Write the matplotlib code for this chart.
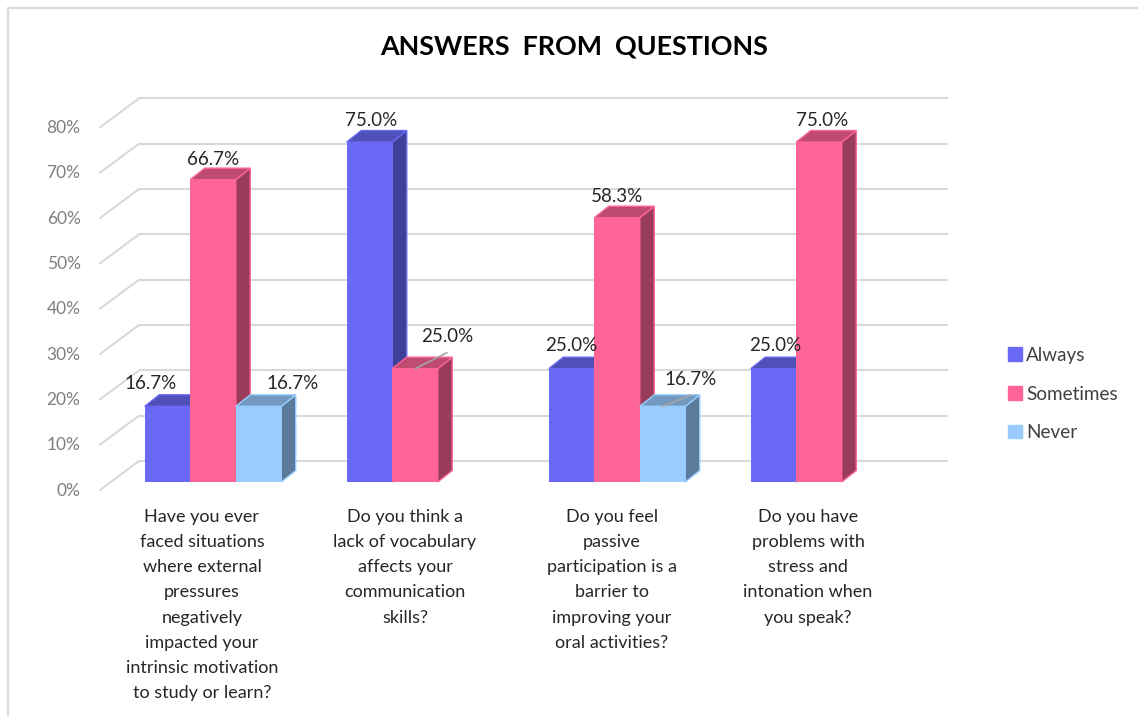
import matplotlib
matplotlib.use("Agg")
import matplotlib.pyplot as plt
from matplotlib.lines import Line2D

plt.rcParams['font.family'] = ['Lato', 'DejaVu Sans']

questions = ["Have you ever\nfaced situations\nwhere external\npressures\nnegatively\nimpacted your\nintrinsic motivation\nto study or learn?",
             "Do you think a\nlack of vocabulary\naffects your\ncommunication\nskills?",
             "Do you feel\npassive\nparticipation is a\nbarrier to\nimproving your\noral activities?",
             "Do you have\nproblems with\nstress and\nintonation when\nyou speak?"]
always = [16.7, 75.0, 25.0, 25.0]
sometimes = [66.7, 25.0, 58.3, 75.0]
never = [16.7, 0, 16.7, 0]
ticks = [0, 10, 20, 30, 40, 50, 60, 70, 80]

W, H = 1138, 716
px_x = 202.0      # pixels per category
px_y = 4.533      # pixels per percent
x0_px, y0_px = 213, 482   # where category 0 / value 0 sit

# axes box in pixels
left, right, top, bottom = 100, 948, 90, 490

fig = plt.figure(figsize=(W / 100, H / 100), dpi=100)
ax = fig.add_axes([left / W, 1 - bottom / H, (right - left) / W, (bottom - top) / H])
ax.set_xlim((left - x0_px) / px_x, (right - x0_px) / px_x)
ax.set_ylim((y0_px - bottom) / px_y, (y0_px - top) / px_y)
for s in ax.spines.values():
    s.set_visible(False)
ax.patch.set_alpha(0)

# outer frame of the screenshot
fig.add_artist(Line2D([8 / W, 8 / W, 1], [0, 1 - 8 / H, 1 - 8 / H], color="#d9d9d9", lw=1.6))

# wall grid
grid_c = "#d9d9d9"
wall_x = (139 - x0_px) / px_x
front_x = (left - x0_px) / px_x
back_off = 21 / px_y
front_off = -8 / px_y
for t in ticks:
    ax.plot([wall_x, ax.get_xlim()[1]], [t + back_off, t + back_off], color=grid_c, lw=1.5, zorder=1, solid_capstyle="butt")
    ax.plot([front_x, wall_x], [t + front_off, t + back_off], color=grid_c, lw=1.5, zorder=1, clip_on=False)

bw = 45.5 / px_x
dx = 14.5 / px_x
dy = 11.5 / px_y
styles = [("#6969f5", "#5050b8", "#404098"),
          ("#ff6496", "#bf4b70", "#993c5a"),
          ("#99ccff", "#7399bf", "#5c7a99")]
names = ["Always", "Sometimes", "Never"]
z = 3
for i in range(len(questions)):
    for j, vals in enumerate([always, sometimes, never]):
        v = vals[i]
        if v == 0:
            continue
        xl = i + (j - 1) * bw - bw / 2
        xr = xl + bw
        front, topc, side = styles[j]
        ax.fill([xr, xr + dx, xr + dx, xr], [0, dy, v + dy, v], facecolor=side, edgecolor=front, lw=1, zorder=z)
        ax.fill([xl, xl + dx, xr + dx, xr], [v, v + dy, v + dy, v], facecolor=topc, edgecolor=front, lw=1, zorder=z)
        ax.bar(xl, v, width=bw, align="edge", color=front, zorder=z + 1)
        z += 2

# label offsets in pixels from the top centre of each bar
offsets = {(0, 0): (-17, 23), (0, 1): (0, 20), (0, 2): (34, 23),
           (1, 0): (2, 22), (1, 1): (32, 32),
           (2, 0): (0, 23), (2, 1): (0, 21), (2, 2): (28, 27),
           (3, 0): (2, 23), (3, 1): (3, 22)}
leaders = [(1, 1), (2, 2)]
for i in range(len(questions)):
    for j, vals in enumerate([always, sometimes, never]):
        v = vals[i]
        if v == 0:
            continue
        ox, oy = offsets[(i, j)]
        xc = i + (j - 1) * bw
        ax.annotate("%.1f%%" % v, (xc, v), xytext=(ox * 0.72, oy * 0.72), textcoords="offset points",
                    ha="center", va="center", fontsize=13.5, color="#262626", zorder=200)
        if (i, j) in leaders:
            ax.annotate("", (xc, v), xytext=(ox * 0.72, (oy - 16) * 0.72), textcoords="offset points",
                        arrowprops=dict(arrowstyle="-", color="#a6a6a6", lw=1.2, shrinkA=0, shrinkB=0), zorder=200)

ax.set_yticks([t - 7 / px_y for t in ticks])
ax.set_yticklabels(["%d%%" % t for t in ticks], fontsize=12.5, color="#7f7f7f")
label_shift = [-11, -10, -5, -11]
ax.set_xticks([i + label_shift[i] / px_x for i in range(len(questions))])
ax.set_xticklabels(questions, fontsize=13, color="#262626", linespacing=1.71, va="top")
ax.tick_params(axis="y", length=0, pad=14)
ax.tick_params(axis="x", length=0, pad=13.5)

fig.text(574 / W, 1 - 47 / H, "ANSWERS  FROM  QUESTIONS", ha="center", va="center", fontsize=19.4, fontweight="bold", color="black")

handles = [plt.Rectangle((0, 0), 1, 1, color=styles[k][0]) for k in range(3)]
fig.legend(handles, names, loc="center left", bbox_to_anchor=(991 / W, 1 - 394 / H), frameon=False,
           fontsize=13.6, labelcolor="#404040", handlelength=0.75, handleheight=0.75, handletextpad=0.2, labelspacing=1.14)

fig.savefig("out.png", dpi=100)
